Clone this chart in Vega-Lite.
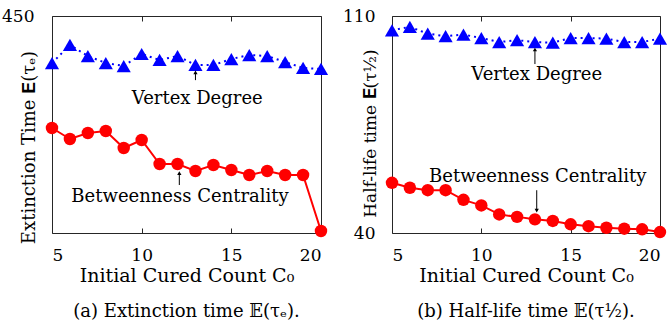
{
  "$schema": "https://vega.github.io/schema/vega-lite/v6.json",
  "padding": {"left": 1, "top": 6, "right": 0, "bottom": 0},
  "spacing": 13,
  "datasets": {
    "ext": [
      {"C0": 5, "series": "Vertex Degree", "value": 352.5},
      {"C0": 6, "series": "Vertex Degree", "value": 389.9},
      {"C0": 7, "series": "Vertex Degree", "value": 367},
      {"C0": 8, "series": "Vertex Degree", "value": 352.5},
      {"C0": 9, "series": "Vertex Degree", "value": 346.3},
      {"C0": 10, "series": "Vertex Degree", "value": 371.2},
      {"C0": 11, "series": "Vertex Degree", "value": 358.8},
      {"C0": 12, "series": "Vertex Degree", "value": 367},
      {"C0": 13, "series": "Vertex Degree", "value": 348.4},
      {"C0": 14, "series": "Vertex Degree", "value": 348.4},
      {"C0": 15, "series": "Vertex Degree", "value": 360.8},
      {"C0": 16, "series": "Vertex Degree", "value": 369.1},
      {"C0": 17, "series": "Vertex Degree", "value": 367},
      {"C0": 18, "series": "Vertex Degree", "value": 354.6},
      {"C0": 19, "series": "Vertex Degree", "value": 342.2},
      {"C0": 20, "series": "Vertex Degree", "value": 340.1},
      {"C0": 5, "series": "Betweenness Centrality", "value": 217.7},
      {"C0": 6, "series": "Betweenness Centrality", "value": 194.9},
      {"C0": 7, "series": "Betweenness Centrality", "value": 207.4},
      {"C0": 8, "series": "Betweenness Centrality", "value": 211.5},
      {"C0": 9, "series": "Betweenness Centrality", "value": 176.3},
      {"C0": 10, "series": "Betweenness Centrality", "value": 192.9},
      {"C0": 11, "series": "Betweenness Centrality", "value": 143.1},
      {"C0": 12, "series": "Betweenness Centrality", "value": 143.1},
      {"C0": 13, "series": "Betweenness Centrality", "value": 128.6},
      {"C0": 14, "series": "Betweenness Centrality", "value": 141},
      {"C0": 15, "series": "Betweenness Centrality", "value": 130.6},
      {"C0": 16, "series": "Betweenness Centrality", "value": 120.3},
      {"C0": 17, "series": "Betweenness Centrality", "value": 128.6},
      {"C0": 18, "series": "Betweenness Centrality", "value": 120.3},
      {"C0": 19, "series": "Betweenness Centrality", "value": 120.3},
      {"C0": 20, "series": "Betweenness Centrality", "value": 4.1}
    ],
    "half": [
      {"C0": 5, "series": "Vertex Degree", "value": 105.4},
      {"C0": 6, "series": "Vertex Degree", "value": 106.5},
      {"C0": 7, "series": "Vertex Degree", "value": 104.3},
      {"C0": 8, "series": "Vertex Degree", "value": 103.5},
      {"C0": 9, "series": "Vertex Degree", "value": 104.0},
      {"C0": 10, "series": "Vertex Degree", "value": 102.9},
      {"C0": 11, "series": "Vertex Degree", "value": 101.6},
      {"C0": 12, "series": "Vertex Degree", "value": 102.2},
      {"C0": 13, "series": "Vertex Degree", "value": 101.6},
      {"C0": 14, "series": "Vertex Degree", "value": 101.4},
      {"C0": 15, "series": "Vertex Degree", "value": 102.9},
      {"C0": 16, "series": "Vertex Degree", "value": 102.9},
      {"C0": 17, "series": "Vertex Degree", "value": 102.7},
      {"C0": 18, "series": "Vertex Degree", "value": 101.6},
      {"C0": 19, "series": "Vertex Degree", "value": 101.6},
      {"C0": 20, "series": "Vertex Degree", "value": 102.7},
      {"C0": 5, "series": "Betweenness Centrality", "value": 56.2},
      {"C0": 6, "series": "Betweenness Centrality", "value": 54.6},
      {"C0": 7, "series": "Betweenness Centrality", "value": 53.8},
      {"C0": 8, "series": "Betweenness Centrality", "value": 53.8},
      {"C0": 9, "series": "Betweenness Centrality", "value": 50.7},
      {"C0": 10, "series": "Betweenness Centrality", "value": 48.9},
      {"C0": 11, "series": "Betweenness Centrality", "value": 46.0},
      {"C0": 12, "series": "Betweenness Centrality", "value": 45.2},
      {"C0": 13, "series": "Betweenness Centrality", "value": 44.4},
      {"C0": 14, "series": "Betweenness Centrality", "value": 43.9},
      {"C0": 15, "series": "Betweenness Centrality", "value": 42.8},
      {"C0": 16, "series": "Betweenness Centrality", "value": 42.2},
      {"C0": 17, "series": "Betweenness Centrality", "value": 41.7},
      {"C0": 18, "series": "Betweenness Centrality", "value": 41.4},
      {"C0": 19, "series": "Betweenness Centrality", "value": 41.2},
      {"C0": 20, "series": "Betweenness Centrality", "value": 40.3}
    ],
    "extNotes": [
      {"label": "Vertex Degree", "lx": 13.1, "ly": 277.9, "ax": 13, "tail": 317, "tip": 333},
      {"label": "Betweenness Centrality", "lx": 12.14, "ly": 74.7, "ax": 12.1, "tail": 99.5, "tip": 124}
    ],
    "halfNotes": [
      {"label": "Vertex Degree", "lx": 13.1, "ly": 91.0, "ax": 13, "tail": 94.5, "tip": 99.2},
      {"label": "Betweenness Centrality", "lx": 13.16, "ly": 58.1, "ax": 13.1, "tail": 53.8, "tip": 47.2}
    ]
  },
  "hconcat": [
    {
      "width": 269,
      "height": 217,
      "title": {"text": "(a) Extinction time 𝔼(τₑ).", "orient": "bottom", "anchor": "middle", "offset": 18},
      "resolve": {"axis": {"x": "independent"}},
      "layer": [
        {
          "data": {"name": "ext"},
          "transform": [{"filter": "datum.series === 'Vertex Degree'"}],
          "mark": {"type": "line", "color": "#0000ff", "strokeWidth": 2, "strokeDash": [2, 4],
                   "point": {"shape": "triangle-up", "size": 200, "filled": true, "color": "#0000ff", "opacity": 1}},
          "encoding": {
            "x": {"field": "C0", "type": "quantitative", "scale": {"domain": [5, 20], "nice": false, "zero": false},
                  "axis": {"values": [5, 10, 15, 20], "title": "Initial Cured Count C₀", "domain": false, "tickSize": -5, "labelPadding": 19, "titlePadding": 3}},
            "y": {"field": "value", "type": "quantitative", "scale": {"domain": [0, 450], "nice": false},
                  "axis": {"values": [450], "title": "Extinction Time 𝐄(τₑ)", "domain": false, "ticks": false, "labelPadding": 18,
                           "titleX": -23, "titleY": 131, "titleBaseline": "middle", "titleAlign": "center", "titleAnchor": null, "titleFontSize": 18}}
          }
        },
        {
          "data": {"name": "ext"},
          "transform": [{"filter": "datum.series === 'Betweenness Centrality'"}],
          "mark": {"type": "line", "color": "#ff0000", "strokeWidth": 2,
                   "point": {"shape": "circle", "size": 155, "filled": true, "color": "#ff0000", "opacity": 1}},
          "encoding": {
            "x": {"field": "C0", "type": "quantitative",
                  "axis": {"orient": "top", "values": [5, 10, 15, 20], "labels": false, "title": null, "domain": false, "tickSize": -5}},
            "y": {"field": "value", "type": "quantitative"}
          }
        },
        {
          "data": {"name": "extNotes"},
          "mark": {"type": "rule", "color": "#000000", "strokeWidth": 1},
          "encoding": {"x": {"field": "ax", "type": "quantitative", "axis": null}, "y": {"field": "tail", "type": "quantitative"}, "y2": {"field": "tip"}}
        },
        {
          "data": {"name": "extNotes"},
          "mark": {"type": "point", "shape": "triangle-up", "size": 18, "filled": true, "color": "#000000", "opacity": 1},
          "encoding": {"x": {"field": "ax", "type": "quantitative", "axis": null}, "y": {"field": "tip", "type": "quantitative"}}
        },
        {
          "data": {"name": "extNotes"},
          "mark": {"type": "text", "fontSize": 18, "color": "#000000", "baseline": "middle", "align": "center"},
          "encoding": {"x": {"field": "lx", "type": "quantitative", "axis": null}, "y": {"field": "ly", "type": "quantitative"}, "text": {"field": "label"}}
        }
      ]
    },
    {
      "width": 268,
      "height": 217,
      "title": {"text": "(b) Half-life time 𝔼(τ½).", "orient": "bottom", "anchor": "middle", "offset": 18},
      "resolve": {"axis": {"x": "independent"}},
      "layer": [
        {
          "data": {"name": "half"},
          "transform": [{"filter": "datum.series === 'Vertex Degree'"}],
          "mark": {"type": "line", "color": "#0000ff", "strokeWidth": 2, "strokeDash": [2, 4],
                   "point": {"shape": "triangle-up", "size": 200, "filled": true, "color": "#0000ff", "opacity": 1}},
          "encoding": {
            "x": {"field": "C0", "type": "quantitative", "scale": {"domain": [5, 20], "nice": false, "zero": false},
                  "axis": {"values": [5, 10, 15, 20], "title": "Initial Cured Count C₀", "domain": false, "tickSize": -5, "labelPadding": 19, "titlePadding": 3}},
            "y": {"field": "value", "type": "quantitative", "scale": {"domain": [40, 110], "nice": false, "zero": false},
                  "axis": {"values": [40, 110], "title": "Half-life time 𝐄(τ½)", "domain": false, "ticks": false, "labelPadding": 17,
                           "titleX": -22, "titleY": 117, "titleBaseline": "middle", "titleAlign": "center", "titleAnchor": null, "titleFontSize": 17}}
          }
        },
        {
          "data": {"name": "half"},
          "transform": [{"filter": "datum.series === 'Betweenness Centrality'"}],
          "mark": {"type": "line", "color": "#ff0000", "strokeWidth": 2,
                   "point": {"shape": "circle", "size": 155, "filled": true, "color": "#ff0000", "opacity": 1}},
          "encoding": {
            "x": {"field": "C0", "type": "quantitative",
                  "axis": {"orient": "top", "values": [5, 10, 15, 20], "labels": false, "title": null, "domain": false, "tickSize": -5}},
            "y": {"field": "value", "type": "quantitative"}
          }
        },
        {
          "data": {"name": "halfNotes"},
          "mark": {"type": "rule", "color": "#000000", "strokeWidth": 1},
          "encoding": {"x": {"field": "ax", "type": "quantitative", "axis": null}, "y": {"field": "tail", "type": "quantitative"}, "y2": {"field": "tip"}}
        },
        {
          "data": {"name": "halfNotes"},
          "transform": [{"filter": "datum.tip > datum.tail"}],
          "mark": {"type": "point", "shape": "triangle-up", "size": 18, "filled": true, "color": "#000000", "opacity": 1},
          "encoding": {"x": {"field": "ax", "type": "quantitative", "axis": null}, "y": {"field": "tip", "type": "quantitative"}}
        },
        {
          "data": {"name": "halfNotes"},
          "transform": [{"filter": "datum.tip < datum.tail"}],
          "mark": {"type": "point", "shape": "triangle-down", "size": 18, "filled": true, "color": "#000000", "opacity": 1},
          "encoding": {"x": {"field": "ax", "type": "quantitative", "axis": null}, "y": {"field": "tip", "type": "quantitative"}}
        },
        {
          "data": {"name": "halfNotes"},
          "mark": {"type": "text", "fontSize": 18, "color": "#000000", "baseline": "middle", "align": "center"},
          "encoding": {"x": {"field": "lx", "type": "quantitative", "axis": null}, "y": {"field": "ly", "type": "quantitative"}, "text": {"field": "label"}}
        }
      ]
    }
  ],
  "config": {
    "font": "DejaVu Serif",
    "background": "#ffffff",
    "view": {"stroke": "#262626", "strokeWidth": 1},
    "axis": {"labelFontSize": 17, "titleFontSize": 19, "labelColor": "#000000", "titleColor": "#000000", "titleFontWeight": "normal",
             "grid": false, "tickColor": "#262626", "labelFont": "DejaVu Serif", "titleFont": "DejaVu Serif"},
    "title": {"fontSize": 18, "fontWeight": "normal", "color": "#000000", "font": "DejaVu Serif"},
    "text": {"font": "DejaVu Serif"}
  }
}
